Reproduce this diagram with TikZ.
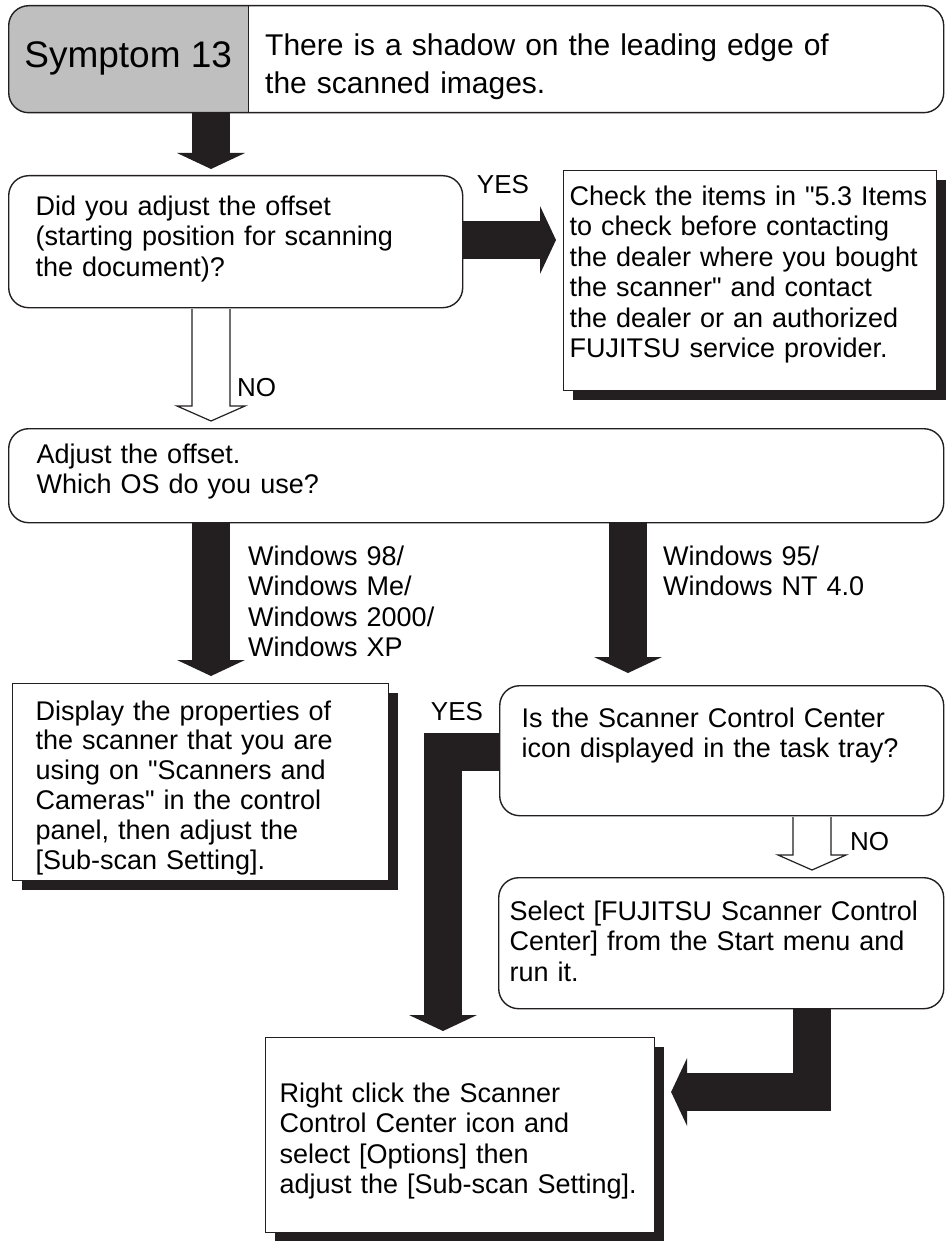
\documentclass[tikz,border=0pt]{standalone}
\usepackage{fontspec}
\setmainfont{Liberation Sans}
\usetikzlibrary{arrows.meta,calc,shadows}

\definecolor{ink}{RGB}{35,31,32}
\definecolor{symgray}{RGB}{191,191,191}

% white block arrow pointing down, from #1 to just above #2
\newcommand{\hollowdown}[2]{%
  \draw[hollow] let \p1=#1, \p2=#2 in
    (\x2-19pt,\y1-0.7pt) -- (\x2-19pt,\y2+22pt) -- (\x2-34pt,\y2+22pt)
    -- (\x2,\y2+7pt) -- (\x2+34pt,\y2+22pt) -- (\x2+19pt,\y2+22pt)
    -- (\x2+19pt,\y1-0.7pt);}

\begin{document}
\begin{tikzpicture}[x=1pt, y=-1pt,
   every node/.style={font=\fontsize{27}{30.5}\selectfont, inner sep=0pt},
   rbox/.style={draw=ink, line width=1.4pt, rounded corners=20pt,
     anchor=north west, align=left},
   sbox/.style={draw=ink, line width=1.1pt, fill=white, anchor=north west,
     align=left, drop shadow={shadow xshift=9pt, shadow yshift=-9pt,
     opacity=1, fill=ink}},
   lbl/.style={font=\fontsize{26}{30}\selectfont},
   blk/.style={draw=ink, line width=38pt,
     -{Triangle[width=68pt, length=16pt, line width=0pt]}},
   hollow/.style={draw=ink, line width=1.2pt, fill=white}]

\useasboundingbox (0,0) rectangle (945,1241);
\coordinate (colA) at (211,0);
\coordinate (colR) at (628,0);
\coordinate (colC) at (443,0);
\coordinate (colD) at (812,0);

% header
\node[rbox, minimum width=935pt, minimum height=107pt,
  path picture={\fill[symgray, sharp corners] (path picture bounding box.north west)
    rectangle ([xshift=240pt]path picture bounding box.south west);}]
  (hd) at (8,5) {};
\node[anchor=north west, minimum width=240pt, minimum height=107pt,
  font=\fontsize{37}{40}\selectfont] (tag) at (hd.north west) {Symptom 13};
\draw[ink, line width=1.4pt] (tag.north east) -- (tag.south east);
\node[anchor=base west, text width=660pt, align=left,
  font=\fontsize{30}{38}\selectfont] (title) at (265,56)
  {There is a shadow on the leading edge of\\the scanned images.};

% boxes
\node[rbox, text width=400pt, inner xsep=27pt, text height=39.5pt,
  text depth=92.5pt] (q1) at (8,175)
  {Did you adjust the offset\\(starting position for scanning\\the document)?};
\node[sbox, text width=361pt, inner xsep=6pt, text height=34.5pt,
  text depth=185.5pt] (a1) at (563,170)
  {Check the items in \textquotedbl 5.3 Items\\to check before contacting\\the dealer where you bought\\the scanner\textquotedbl{} and contact\\the dealer or an authorized\\FUJITSU service provider.};
\node[rbox, text width=879pt, inner xsep=28pt, text height=34.5pt,
  text depth=59.5pt] (q2) at (8,428)
  {Adjust the offset.\\Which OS do you use?};
\node[sbox, text width=330pt, inner xsep=23pt, text height=36.5pt,
  text depth=160.5pt, font=\fontsize{27}{29.8}\selectfont] (a2) at (12,683)
  {Display the properties of\\the scanner that you are\\using on \textquotedbl Scanners and\\Cameras\textquotedbl{} in the control\\panel, then adjust the\\{[Sub-scan Setting].}};
\node[rbox, text width=400pt, inner xsep=22pt, text height=41.5pt,
  text depth=88.5pt] (q3) at (499,685)
  {Is the Scanner Control Center\\icon displayed in the task tray?};
\node[rbox, text width=423pt, inner xsep=11pt, text height=42.5pt,
  text depth=88.5pt] (a3) at (498,877)
  {Select [FUJITSU Scanner Control\\Center] from the Start menu and\\run it.};
\node[sbox, text width=361pt, inner xsep=14pt, text height=64.5pt,
  text depth=130.5pt] (a4) at (265,1037)
  {Right click the Scanner\\Control Center icon and\\select [Options] then\\adjust the [Sub-scan Setting].};

% labels
\node[lbl] (yes1) at (503,185) {YES};
\node[lbl, anchor=west] (no1) at (237,388) {NO};
\node[anchor=base west, text width=200pt, align=left] (os1) at (248,565)
  {Windows 98/\\Windows Me/\\Windows 2000/\\Windows XP};
\node[anchor=base west, text width=250pt, align=left] (os2) at (663,565)
  {Windows 95/\\Windows NT 4.0};
\node[lbl] (yes2) at (457,712) {YES};
\node[lbl, anchor=west] (no2) at (850,842) {NO};

% arrows
\draw[blk, shorten >=6pt] (colA |- hd.south) -- (colA |- q1.north);
\draw[blk, shorten >=7pt] (q1.east |- 0,240) -- (a1.west |- 0,240);
\hollowdown{(colA |- q1.south)}{(colA |- q2.north)}
\draw[blk, shorten >=7pt] (colA |- q2.south) -- (colA |- a2.north);
\draw[blk, shorten >=12pt] (colR |- q2.south) -- (colR |- q3.north);
\draw[blk, shorten >=6pt] (q3.west |- 0,752) -| (colC |- a4.north);
\hollowdown{(colD |- q3.south)}{(colD |- a3.north)}
\draw[blk, shorten >=16pt] (colD |- a3.south) |- (a4.east |- 0,1092);
\end{tikzpicture}
\end{document}
